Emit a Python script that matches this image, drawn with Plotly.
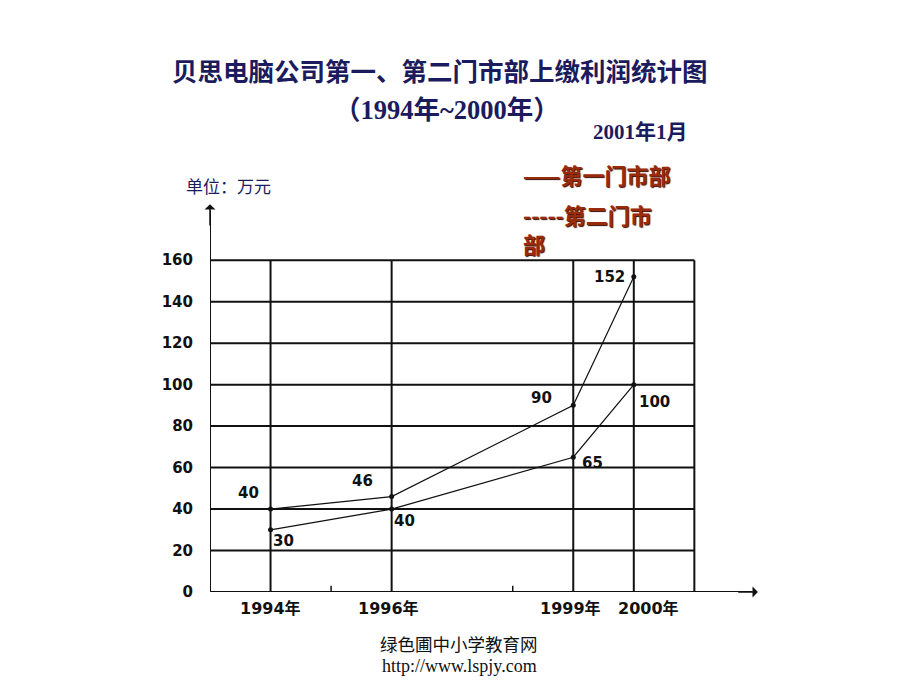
import plotly.graph_objects as go

# ---- data ----
years = [1994, 1996, 1999, 2000]
store1 = [40, 46, 90, 152]   # 第一门市部
store2 = [30, 40, 65, 100]   # 第二门市部
x_labels = ["1994年", "1996年", "1999年", "2000年"]
y_ticks = [0, 20, 40, 60, 80, 100, 120, 140, 160]
grid_years = [1994, 1996, 1999, 2000, 2001]
minor_years = [1995, 1998]

title1 = "贝思电脑公司第一、第二门市部上缴利润统计图"
title2 = "（1994年~2000年）"
date_txt = "2001年1月"
unit_txt = "单位：万元"
legend1 = "——第一门市部"
legend2a = "-----第二门市"
legend2b = "部"
footer1 = "绿色圃中小学教育网"
footer2 = "http://www.lspjy.com"

NAVY = "#1b1b5e"
RED = "#9a2a0c"
NUMFONT = dict(family="DejaVu Sans", size=15, color="#111111")
PAGE_OFF = 8  # default body margin of the html page

fig = go.Figure()

for vals in (store1, store2):
    fig.add_trace(go.Scatter(
        x=years, y=vals, mode="lines+markers",
        line=dict(color="#111111", width=1.2),
        marker=dict(color="#111111", size=5),
        showlegend=False, hoverinfo="skip", cliponaxis=False))

shapes = []
xmin, xmax_grid = 1993, grid_years[-1]
for v in y_ticks[1:]:
    shapes.append(dict(type="line", xref="x", yref="y", x0=xmin, x1=xmax_grid,
                       y0=v, y1=v, line=dict(color="#111111", width=2), layer="below"))
for g in grid_years:
    shapes.append(dict(type="line", xref="x", yref="y", x0=g, x1=g,
                       y0=0, y1=y_ticks[-1], line=dict(color="#111111", width=2), layer="below"))
for m in minor_years:
    shapes.append(dict(type="line", xref="x", yref="y", x0=m, x1=m,
                       y0=0, y1=3, line=dict(color="#111111", width=1.5), layer="below"))
shapes.append(dict(type="line", xref="x", yref="y", x0=xmin, x1=xmin, y0=0, y1=184,
                   line=dict(color="#111111", width=2)))
shapes.append(dict(type="line", xref="x", yref="y", x0=xmin, x1=2001.95, y0=0, y1=0,
                   line=dict(color="#111111", width=2)))

annotations = []
annotations.append(dict(x=xmin, y=187, ax=xmin, ay=176, xref="x", yref="y", axref="x", ayref="y",
                        text="", showarrow=True, arrowhead=1, arrowsize=1.2, arrowwidth=1.5,
                        arrowcolor="#111111"))
annotations.append(dict(x=2002.05, y=0, ax=2001.7, ay=0, xref="x", yref="y", axref="x", ayref="y",
                        text="", showarrow=True, arrowhead=1, arrowsize=1.2, arrowwidth=1.5,
                        arrowcolor="#111111"))

# data labels
off1 = [(-22, 16), (-29, 16), (-32, 7), (-24, 0)]
off2 = [(13, -11), (13, -12), (19, -6), (21, -17)]
for vals, offs in ((store1, off1), (store2, off2)):
    for xv, yv, (dx, dy) in zip(years, vals, offs):
        annotations.append(dict(x=xv, y=yv, xref="x", yref="y", text="<b>%d</b>" % yv,
                                showarrow=False, xshift=dx, yshift=dy,
                                font=dict(family="DejaVu Sans", size=15, color="#111111")))

# x tick labels
xshifts = [0, -3, -3, 15]
for xv, lab, dx in zip(years, x_labels, xshifts):
    annotations.append(dict(x=xv, y=0, xref="x", yref="y", text="<b>" + lab + "</b>",
                            showarrow=False, yshift=-16, xshift=dx, yanchor="middle",
                            font=dict(family="DejaVu Sans, Noto Sans CJK SC", size=16,
                                      color="#111111")))

LEGFONT = dict(family="Noto Sans CJK SC", size=22, color=RED, shadow="1px 1px 1px #3a0a00")

# free texts at pixel positions of the 920x690 picture
texts = [
    dict(x=440, y=70, text="<b>" + title1 + "</b>",
         font=dict(family="Noto Sans CJK SC", size=25.5, color=NAVY)),
    dict(x=447, y=110, text="<b>" + title2 + "</b>",
         font=dict(family="Liberation Serif, Noto Sans CJK SC", size=26.5, color=NAVY)),
    dict(x=640, y=132, text="<b>" + date_txt + "</b>",
         font=dict(family="Liberation Serif, Noto Sans CJK SC", size=21, color=NAVY)),
    dict(x=228, y=185, text=unit_txt,
         font=dict(family="Noto Sans CJK SC", size=17, color=NAVY)),
    dict(x=521, y=174, text="<b>" + legend1 + "</b>", xanchor="left", font=LEGFONT),
    dict(x=521, y=214, text="<b>" + legend2a + "</b>", xanchor="left", font=LEGFONT),
    dict(x=521, y=243, text="<b>" + legend2b + "</b>", xanchor="left", font=LEGFONT),
    dict(x=459, y=643, text=footer1,
         font=dict(family="Noto Sans CJK SC", size=17.5, color="#111111")),
    dict(x=459, y=666, text=footer2,
         font=dict(family="Liberation Serif", size=18, color="#111111")),
]

W, H = 920, 690
L, T, B = 210 - PAGE_OFF, 198 - PAGE_OFF, 98 + PAGE_OFF
R = W - L - 9.2 * 60.5
pw, ph = W - L - R, H - T - B
for a in texts:
    px, py = a["x"] - PAGE_OFF, a["y"] - PAGE_OFF
    a.update(x=(px - L) / pw, y=1 - (py - T) / ph, xref="paper", yref="paper",
             showarrow=False, yanchor="middle")
    a.setdefault("xanchor", "center")
annotations += texts

fig.update_layout(
    width=W, height=H,
    margin=dict(l=L, r=R, t=T, b=B),
    paper_bgcolor="white", plot_bgcolor="white",
    xaxis=dict(range=[1993, 2002.2], showgrid=False, zeroline=False, showline=False,
               showticklabels=False, ticks=""),
    yaxis=dict(range=[0, 190], tickvals=y_ticks, ticktext=["<b>%d</b>" % v for v in y_ticks],
               showgrid=False, zeroline=False, showline=False, ticks="",
               tickfont=NUMFONT, ticklabelstandoff=16),
    shapes=shapes, annotations=annotations,
)

fig.write_html("out.html")
